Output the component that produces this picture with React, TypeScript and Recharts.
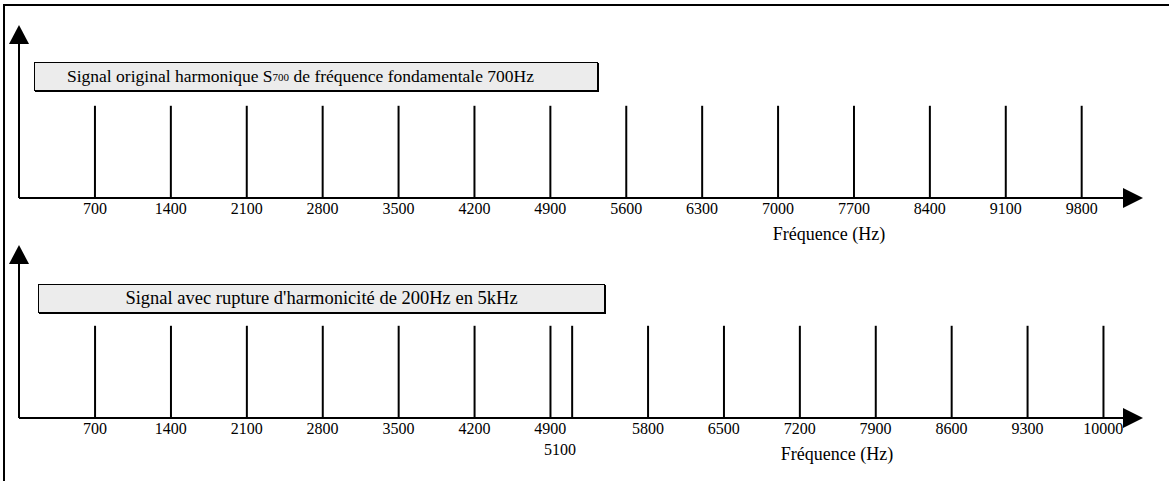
import React from 'react';
import { ComposedChart, Bar, XAxis, YAxis, ReferenceLine } from 'recharts';

// harmonic spectrum, fundamental 700 Hz
const topFreqs = [700, 1400, 2100, 2800, 3500, 4200, 4900, 5600, 6300, 7000, 7700, 8400, 9100, 9800];
const topAmps = [1, 1, 1, 1, 1, 1, 1, 1, 1, 1, 1, 1, 1, 1];

// same spectrum with a 200 Hz shift from 5 kHz
const bottomFreqs = [700, 1400, 2100, 2800, 3500, 4200, 4900, 5100, 5800, 6500, 7200, 7900, 8600, 9300, 10000];
const bottomAmps = [1, 1, 1, 1, 1, 1, 1, 1, 1, 1, 1, 1, 1, 1, 1];

// dashed guides at the original harmonics above 4.9 kHz
const guideFreqs = [4900, 5600, 6300, 7000, 7700, 8400, 9100, 9800];

// labels drawn on a second row
const lowTicks = [5100];

const W = 1169;
const H = 481;
const FONT = 'Liberation Serif, Times New Roman, Tinos, DejaVu Serif, serif';
const X_DOMAIN: [number, number] = [0, 10200];
const Y_DOMAIN: [number, number] = [0, 1.67];
const MARGIN = { top: 44, right: 44, bottom: 18, left: 19 };
const PANEL_H = 260;

const topData = topFreqs.map((f, i) => ({ f, a: topAmps[i] }));
const bottomData = bottomFreqs.map((f, i) => ({ f, a: bottomAmps[i] }));

const renderTick = (props: any) => {
  const { x, y, payload } = props;
  const low = lowTicks.includes(payload.value);
  return (
    <text
      x={x - (low ? 12 : 0)}
      y={y + (low ? 21 : 0)}
      dy="0.71em"
      textAnchor="middle"
      fontFamily={FONT}
      fontSize={16}
      fill="#000"
    >
      {payload.value}
    </text>
  );
};

function Panel({ data, ticks, top, labelDx }: { data: any[]; ticks: number[]; top: number; labelDx: number }) {
  const axisY = PANEL_H - MARGIN.bottom - 44;
  const axisRight = W - MARGIN.right;
  return (
    <div style={{ position: 'absolute', left: 0, top }}>
      <ComposedChart width={W} height={PANEL_H} data={data} margin={MARGIN}>
        <XAxis
          type="number"
          dataKey="f"
          domain={X_DOMAIN}
          allowDataOverflow
          ticks={ticks}
          interval={0}
          tickLine={false}
          tickSize={0}
          tickMargin={5}
          tick={renderTick}
          height={44}
          axisLine={{ stroke: '#000', strokeWidth: 2 }}
          label={{
            value: 'Fréquence (Hz)',
            position: 'insideBottom',
            offset: 2,
            dx: labelDx,
            fill: '#000',
            fontSize: 18,
            fontFamily: FONT,
          }}
        />
        <YAxis type="number" domain={Y_DOMAIN} hide />
        <ReferenceLine x={0} stroke="#000" strokeWidth={2} />
        <Bar dataKey="a" fill="#000" barSize={2} isAnimationActive={false} />
      </ComposedChart>
      <svg width={W} height={PANEL_H} style={{ position: 'absolute', left: 0, top: 0, pointerEvents: 'none' }}>
        {/* arrow heads */}
        <polygon points={`${MARGIN.left},25 ${MARGIN.left - 10},${MARGIN.top} ${MARGIN.left + 10},${MARGIN.top}`} fill="#000" />
        <polygon
          points={`${axisRight - 2},${axisY - 10} ${axisRight + 18},${axisY} ${axisRight - 2},${axisY + 10}`}
          fill="#000"
        />
      </svg>
    </div>
  );
}

const boxStyle: React.CSSProperties = {
  position: 'absolute',
  height: 27,
  background: '#ececec',
  border: '1px solid #000',
  boxShadow: '1px 1px 0 #000',
  fontFamily: FONT,
  color: '#000',
  display: 'flex',
  alignItems: 'center',
  whiteSpace: 'nowrap',
};

export default function App() {
  return (
    <div style={{ position: 'absolute', left: 0, top: 0, width: W, height: H, background: '#fff', overflow: 'hidden' }}>
      {/* dashed guides linking both spectra */}
      <div style={{ position: 'absolute', left: 0, top: 0 }}>
        <ComposedChart width={W} height={H} data={topData} margin={{ top: 200, right: 44, bottom: 47, left: 19 }}>
          <XAxis type="number" dataKey="f" domain={X_DOMAIN} hide />
          <YAxis domain={Y_DOMAIN} hide />
          {guideFreqs.map((f) => (
            <ReferenceLine key={f} x={f} stroke="#bbb" strokeWidth={1.5} strokeDasharray="7 5" />
          ))}
        </ComposedChart>
      </div>

      <Panel data={topData} ticks={topFreqs} top={0} labelDx={257} />
      <Panel data={bottomData} ticks={bottomFreqs} top={220} labelDx={265} />

      <div style={{ ...boxStyle, left: 34, top: 62, width: 562, fontSize: 17.5, paddingLeft: 32, boxSizing: 'content-box', width: 530 }}>
        Signal original harmonique S<sub style={{ fontSize: 11, verticalAlign: -3 }}>700</sub>&nbsp;de fréquence fondamentale 700Hz
      </div>
      <div style={{ ...boxStyle, left: 38, top: 284, width: 565, fontSize: 18.5, justifyContent: 'center' }}>
        Signal avec rupture d'harmonicité de 200Hz en 5kHz
      </div>

      {/* outer frame: top and left edges only */}
      <svg width={W} height={H} style={{ position: 'absolute', left: 0, top: 0, pointerEvents: 'none' }}>
        <line x1={3} y1={5} x2={W} y2={5} stroke="#000" strokeWidth={2} />
        <line x1={4} y1={4} x2={4} y2={H} stroke="#000" strokeWidth={2} />
      </svg>
    </div>
  );
}
